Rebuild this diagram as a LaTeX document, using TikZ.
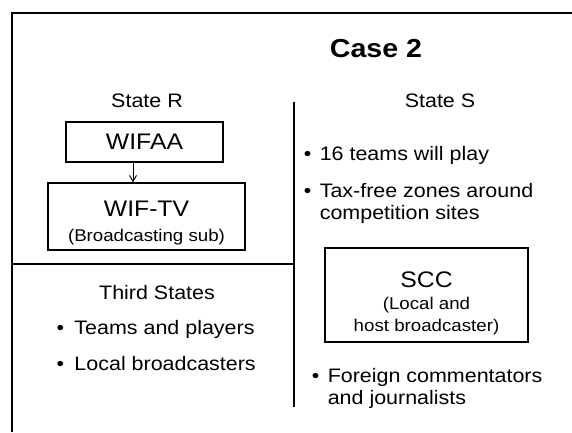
\documentclass[tikz,border=0pt]{standalone}
\usepackage{fontspec}
\setmainfont{Liberation Sans}[FakeStretch=1.1]
\usetikzlibrary{arrows.meta, positioning}
\newcommand\itembullet[1][16pt]{\makebox[#1][l]{\textbullet}}
\newcommand\boxname[1]{{\fontsize{22.5}{25}\selectfont #1}}
\newcommand\topgap[1]{\rule{0pt}{#1}}

\begin{document}
\begin{tikzpicture}[
  x=1pt, y=-1pt,
  rule/.style={line width=1.5pt},
  title/.style={font=\bfseries\fontsize{26}{28}\selectfont, inner sep=0pt, anchor=base},
  heading/.style={font=\fontsize{19.5}{22}\selectfont, inner sep=0pt, anchor=base},
  entity/.style={draw, line width=1.2pt, align=center, inner sep=0pt, font=\fontsize{17}{22}\selectfont},
  listitem/.style={font=\fontsize{19.5}{22}\selectfont, inner sep=0pt, anchor=base west, align=left}
]
\useasboundingbox (0,0) rectangle (572,432);
% frame and dividers
\draw[rule] (12,432) -- (12,13) -- (572,13);
\draw[rule] (294,102) -- (294,407);
\draw[rule] (12,264) -- (294,264);

\node[title] (case) at (376,57) {Case 2};
\node[heading] (stateR) at (147,107) {State R};
\node[heading] (stateS) at (440,107) {State S};

% State R
\node[entity, minimum width=157pt, minimum height=40pt] (wifaa) at (144.5,142) {\boxname{WIFAA}};
\node[entity, minimum width=197pt, minimum height=67pt] (wiftv) at (146.5,216.5) {\topgap{28pt}\boxname{WIF-TV}\\[3pt] (Broadcasting sub)};
\draw[-{Straight Barb[length=6pt,width=7pt]}, line width=1pt] ([xshift=-11.5pt]wifaa.south) -- ([xshift=-11.5pt]wifaa.south |- wiftv.north);

% third states
\node[heading] (third) at (157,299) {Third States};
\node[listitem] (teams) at (56.3,334) {\itembullet[18pt]Teams and players};
\node[listitem] (local) at (56.3,370) {\itembullet[18pt]Local broadcasters};

% State S
\node[listitem] (sixteen) at (303.6,160) {\itembullet 16 teams will play};
\node[listitem] (taxfree) at (303.6,219) {\itembullet Tax-free zones around\\\hspace*{16pt}competition sites};
\node[entity, minimum width=203pt, minimum height=94pt] (scc) at (426.5,295) {\topgap{32pt}\boxname{SCC}\\(Local and\\host broadcaster)};
\node[listitem] (foreign) at (311.6,404) {\itembullet Foreign commentators\\\hspace*{16pt}and journalists};
\end{tikzpicture}
\end{document}
